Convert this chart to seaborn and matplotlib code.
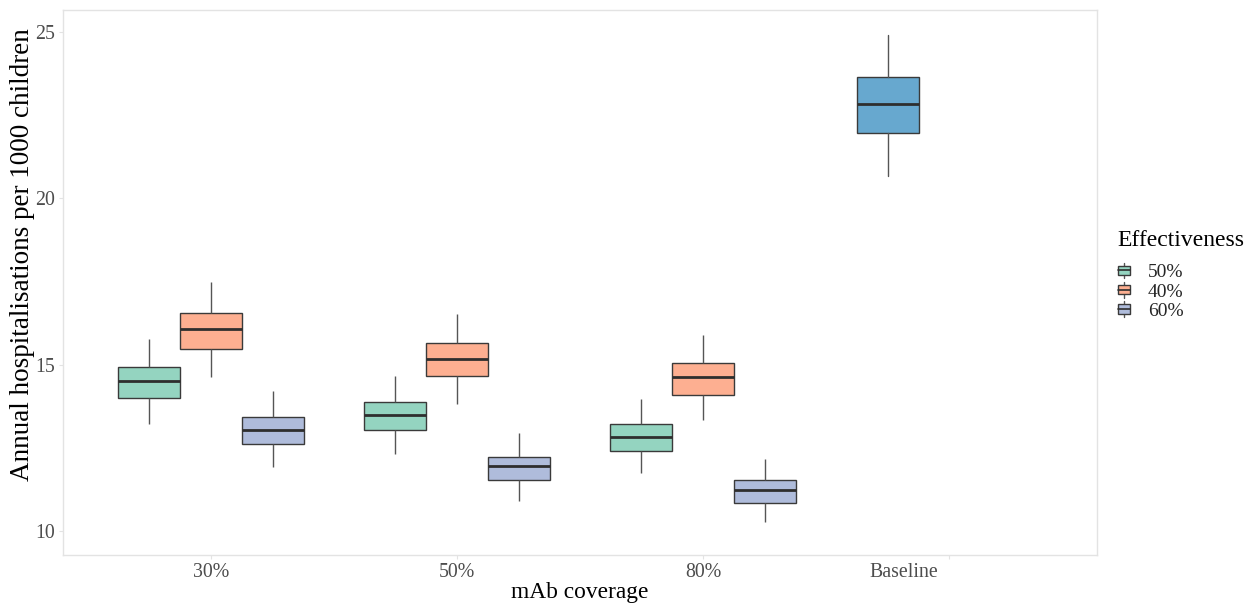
import numpy as np
import pandas as pd
import matplotlib
matplotlib.use("Agg")
import matplotlib.pyplot as plt
import matplotlib.transforms as mtransforms
from matplotlib.patches import Rectangle, Patch
from matplotlib.lines import Line2D
from matplotlib.legend_handler import HandlerBase
import seaborn as sns

# ---- data (five-number summaries: min, Q1, median, Q3, max) ----
coverage = ["30%", "50%", "80%"]
effectiveness = ["50%", "40%", "60%"]
eff50 = [[13.23, 14.01, 14.52, 14.94, 15.78],
         [12.33, 13.05, 13.50, 13.89, 14.67],
         [11.73, 12.42, 12.84, 13.23, 13.98]]
eff40 = [[14.64, 15.48, 16.08, 16.56, 17.49],
         [13.83, 14.67, 15.18, 15.66, 16.53],
         [13.35, 14.10, 14.64, 15.06, 15.90]]
eff60 = [[11.91, 12.63, 13.05, 13.44, 14.22],
         [10.89, 11.52, 11.94, 12.24, 12.96],
         [10.26, 10.83, 11.22, 11.52, 12.18]]
baseline = [20.68, 21.97, 22.84, 23.65, 24.91]
x_order = ["30%", "50%", "80%", "Baseline"]
y_ticks = [10, 15, 20, 25]

colors = {"50%": "#94D4C0", "40%": "#FDAF91", "60%": "#AFBCDB"}
baseline_color = "#67A8CF"

rows = []
for eff, series in zip(effectiveness, [eff50, eff40, eff60]):
    for cov, vals in zip(coverage, series):
        for v in vals:
            rows.append({"coverage": cov, "eff": eff, "value": v})
df = pd.DataFrame(rows)

# ---- style ----
sns.set_theme(style="white")
plt.rcParams["font.family"] = ["Liberation Serif", "DejaVu Serif"]

W, H = 1255, 609
fig = plt.figure(figsize=(W / 100, H / 100), dpi=100)
ax = fig.add_axes([63 / W, 1 - 555 / H, (1097 - 63) / W, (555 - 10) / H])

edge = "#3A3A3A"
sns.boxplot(data=df, x="coverage", y="value", hue="eff", order=x_order,
            hue_order=effectiveness, palette=colors, saturation=1, whis=(0, 100),
            width=0.756, gap=0, linewidth=1.0, ax=ax, legend=False,
            boxprops=dict(edgecolor=edge),
            whiskerprops=dict(color="#555555"),
            capprops=dict(color="#555555", linewidth=0),
            medianprops=dict(color="#2E2E2E", linewidth=2.0))

ax.boxplot([baseline], positions=[2.75], widths=0.252, whis=(0, 100),
           patch_artist=True, showfliers=False,
           boxprops=dict(facecolor=baseline_color, edgecolor=edge, linewidth=1.0),
           whiskerprops=dict(color="#555555", linewidth=1.0),
           capprops=dict(linewidth=0),
           medianprops=dict(color="#2E2E2E", linewidth=2.0))

ax.set_xlim(-0.6, 3.6)
ax.set_ylim(9.28, 25.66)
ax.set_yticks(y_ticks)
ax.set_yticklabels([str(t) for t in y_ticks])
ax.set_xticks(range(len(x_order)))
ax.set_xticklabels(x_order)

for s in ax.spines.values():
    s.set_visible(True)
    s.set_color("#E3E3E3")
    s.set_linewidth(1.0)

ax.tick_params(axis="both", which="major", length=3, width=0.8, color="#E3E3E3",
               labelsize=14.3, labelcolor="#4D4D4D", pad=3, bottom=True, left=True)

# Baseline label sits left of its tick
lbl = ax.get_xticklabels()[3]
lbl.set_transform(lbl.get_transform() + mtransforms.ScaledTranslation(-45 / 100, 0, fig.dpi_scale_trans))

ax.set_xlabel("mAb coverage", fontsize=16.8, color="black", labelpad=0)
ax.set_ylabel("Annual hospitalisations per 1000 children", fontsize=19.5, color="black")
ax.yaxis.label.set_va("center")
ax.yaxis.label.set_ha("center")
ax.yaxis.set_label_coords((23 - 63) / 1034, (555 - 255) / 545)


class BoxKeyHandler(HandlerBase):
    def create_artists(self, legend, orig_handle, xdescent, ydescent, width, height, fontsize, trans):
        cx = -xdescent + width / 2
        bw = width * 0.85
        bh = height * 0.7
        y0 = -ydescent + (height - bh) / 2
        line = Line2D([cx, cx], [-ydescent - 1, -ydescent + height + 1], color="#555555", lw=1.0, transform=trans)
        rect = Rectangle((cx - bw / 2, y0), bw, bh, facecolor=orig_handle.get_facecolor(),
                         edgecolor=edge, lw=1.0, transform=trans)
        med = Line2D([cx - bw / 2, cx + bw / 2], [y0 + bh / 2, y0 + bh / 2], color="#2E2E2E", lw=1.2, transform=trans)
        return [line, rect, med]


fig.text(1117 / W, 1 - 240 / H, "Effectiveness", fontsize=17, color="black",
         ha="left", va="center")
handles = [Patch(facecolor=colors[e]) for e in effectiveness]
leg = fig.legend(handles, effectiveness, loc="upper left",
                 bbox_to_anchor=(1117 / W, 1 - 264 / H), frameon=False,
                 fontsize=14, handler_map={Patch: BoxKeyHandler()},
                 handlelength=0.75, handleheight=0.65, handletextpad=0.85, labelspacing=0.1,
                 borderaxespad=0, borderpad=0)

fig.savefig("out.png", dpi=100)
